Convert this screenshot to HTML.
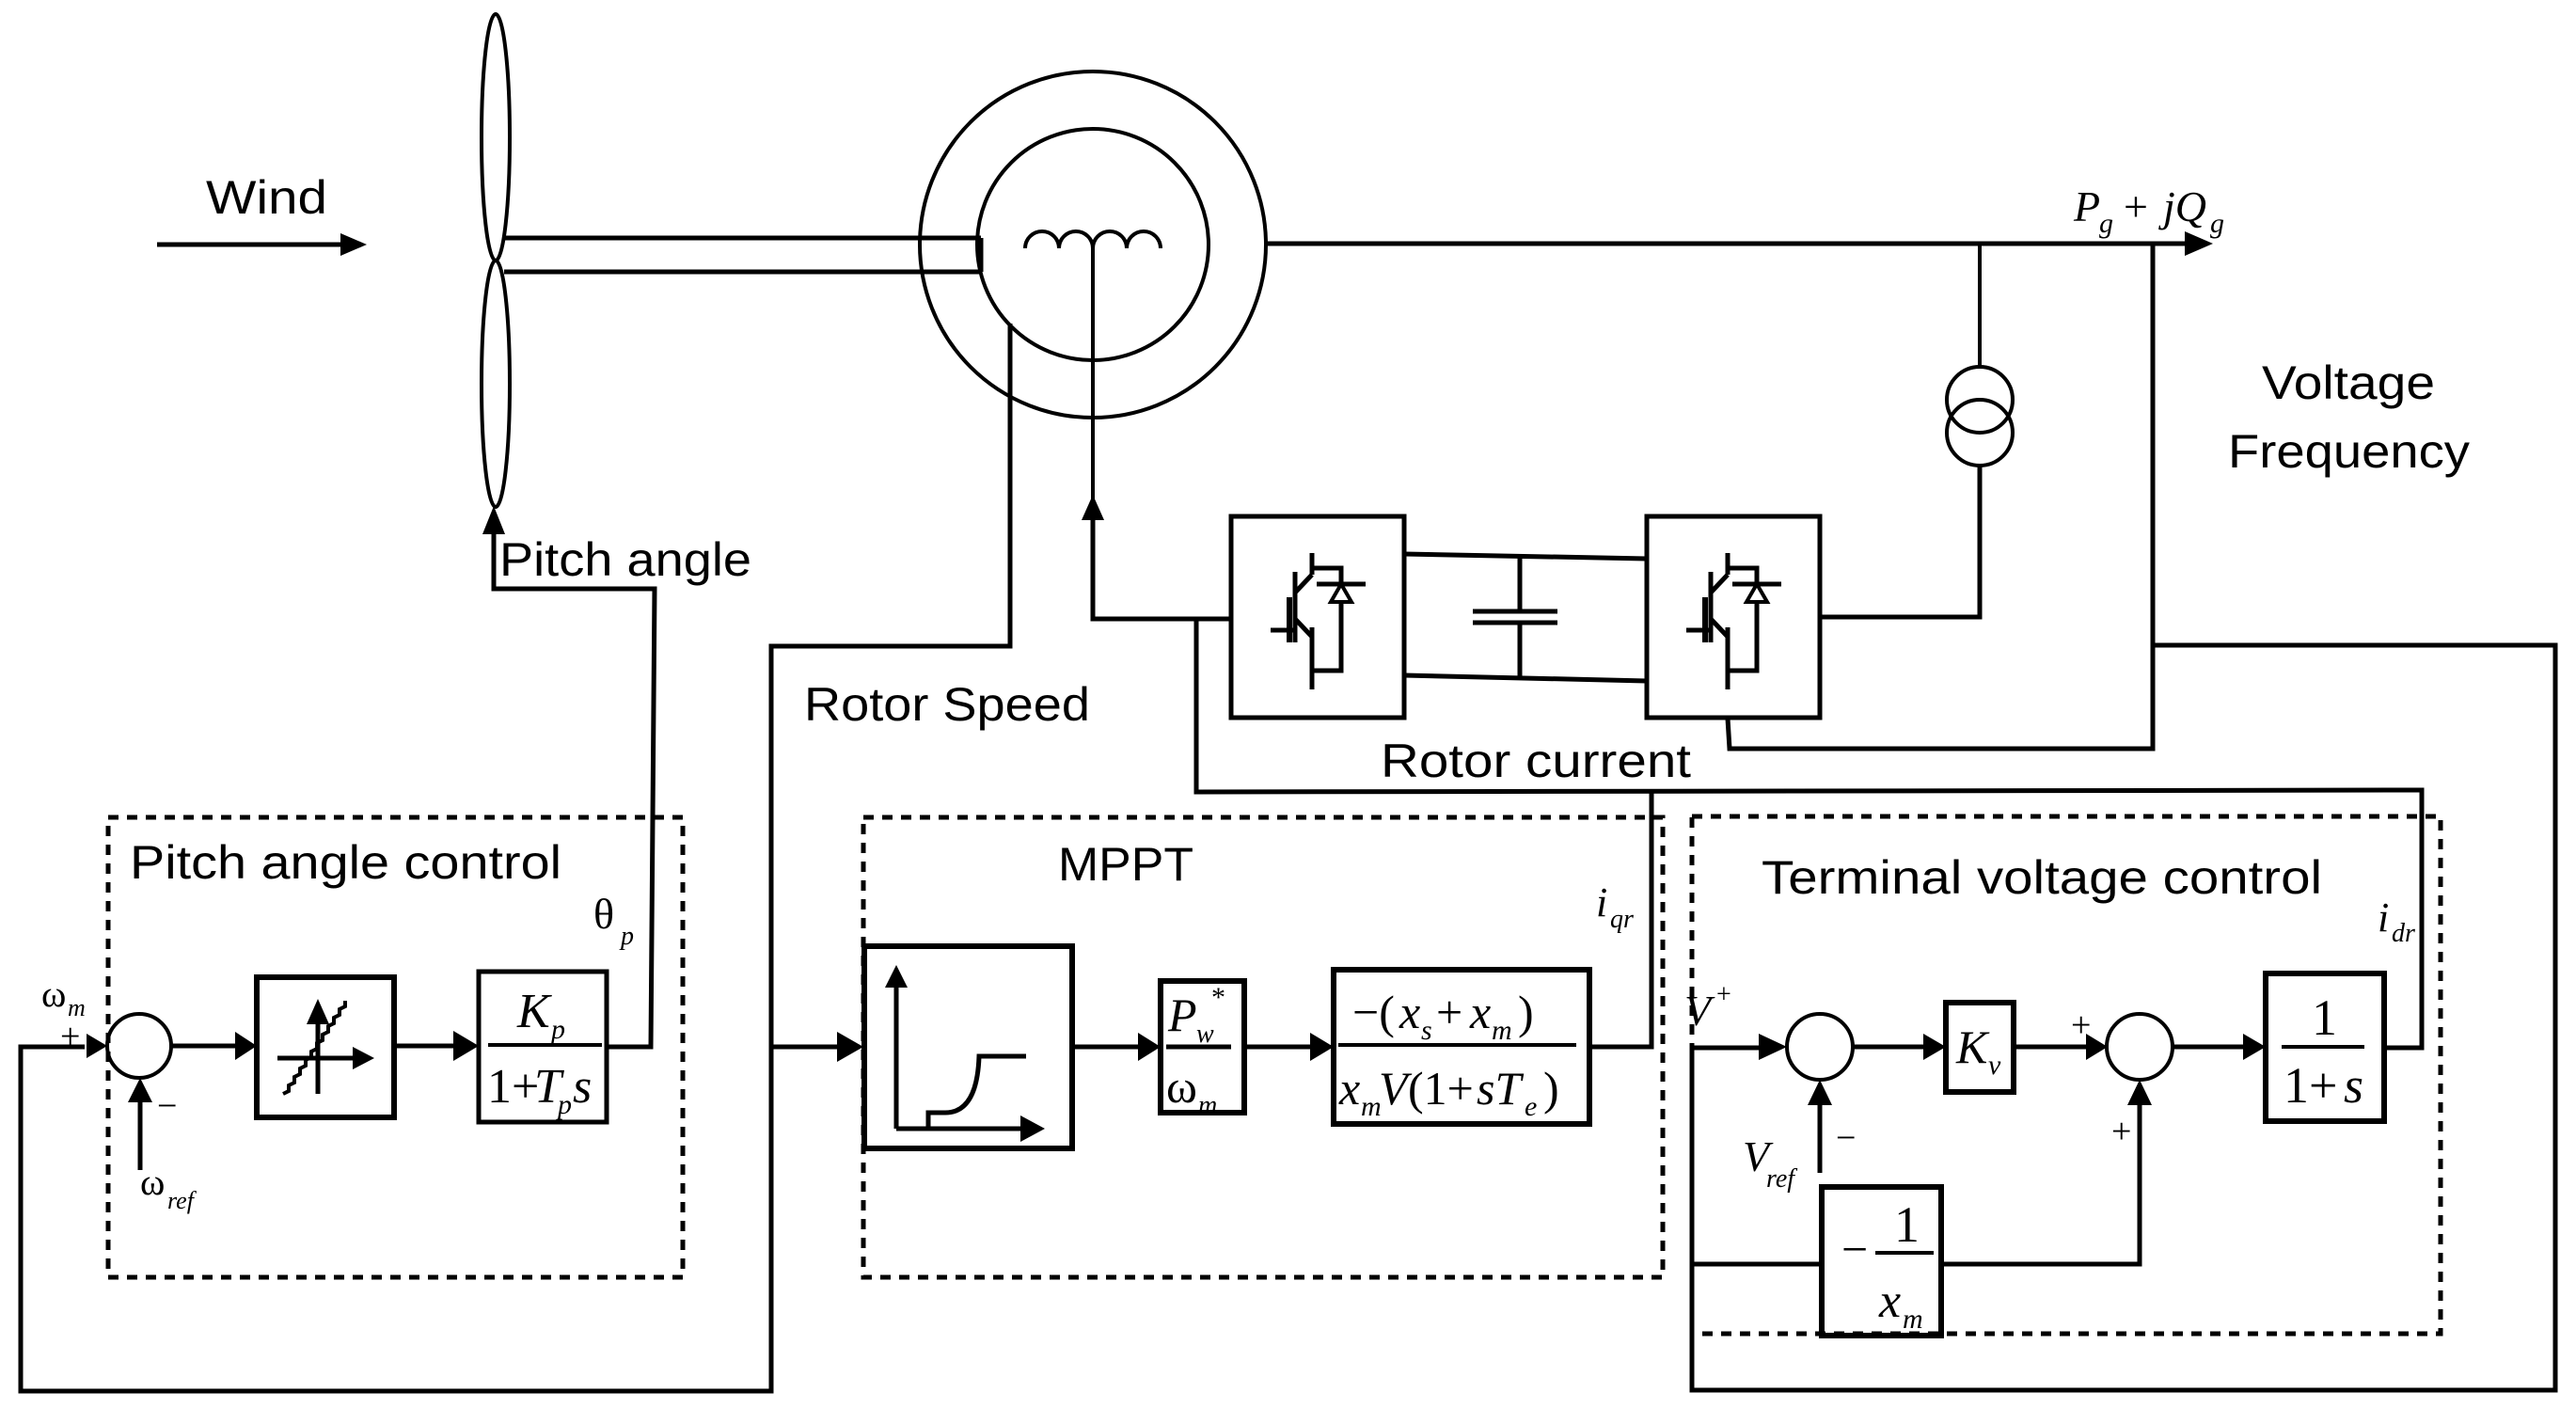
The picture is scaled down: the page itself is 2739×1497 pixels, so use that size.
<!DOCTYPE html>
<html><head><meta charset="utf-8"><style>
html,body{margin:0;padding:0;background:#fff}
svg{display:block}
.s{font-family:"Liberation Sans",sans-serif;fill:#000}
.m{font-family:"Liberation Serif",serif;font-style:italic;fill:#000}
.r{font-family:"Liberation Serif",serif;fill:#000}
</style></head><body>
<svg width="2739" height="1497" viewBox="0 0 2739 1497" xmlns="http://www.w3.org/2000/svg">
<g fill="none" stroke="#000" stroke-width="5" stroke-linejoin="miter">
<line x1="167" y1="260" x2="365" y2="260"/>
<ellipse cx="527" cy="146" rx="15" ry="131" stroke-width="4"/>
<ellipse cx="527" cy="408" rx="15" ry="131" stroke-width="4"/>
<line x1="536" y1="253" x2="1043" y2="253"/>
<line x1="536" y1="289" x2="1043" y2="289"/>
<line x1="1043" y1="253" x2="1043" y2="289"/>
<circle cx="1162" cy="260" r="184" stroke-width="4"/>
<circle cx="1162" cy="260" r="123" stroke-width="4"/>
<path d="M1090 264 a18 18 0 0 1 36 0 a18 18 0 0 1 36 0 a18 18 0 0 1 36 0 a18 18 0 0 1 36 0" stroke-width="4"/>
<polyline points="1162,260 1162,545" stroke-width="4"/>
<polyline points="1162,550 1162,658 1309,658"/>
<polyline points="1074,344 1074,687 820,687 820,1479 22,1479 22,1113 90,1113"/>
<line x1="820" y1="1113" x2="890" y2="1113"/>
<polyline points="525,565 525,626 696,626 692,1113 645,1113"/>
<line x1="1346" y1="259" x2="2325" y2="259"/>
<line x1="2105" y1="259" x2="2105" y2="390" stroke-width="4"/>
<circle cx="2105" cy="425" r="35" stroke-width="4"/>
<circle cx="2105" cy="460" r="35" stroke-width="4"/>
<polyline points="2105,495 2105,656 1935,656"/>
<polyline points="2289,259 2289,796 1839,796 1837,764"/>
<polyline points="2289,686 2717,686 2717,1478 1799,1478 1799,1114 1870,1114"/>
<polyline points="1799,1344 1937,1344"/>
<rect x="1309" y="549" width="184" height="214"/>
<rect x="1751" y="549" width="184" height="214"/>
<line x1="1493" y1="589" x2="1751" y2="594"/>
<line x1="1493" y1="718" x2="1751" y2="724"/>
<line x1="1616" y1="589" x2="1616" y2="650"/>
<line x1="1616" y1="662" x2="1616" y2="721"/>
<line x1="1566" y1="650" x2="1656" y2="650"/>
<line x1="1566" y1="662" x2="1656" y2="662"/>
<polyline points="1272,658 1272,842 2575,840 2575,1114 2535,1114"/>
<polyline points="1756,842 1756,1113 1690,1113"/>
<rect x="115" y="869" width="611" height="489" stroke-dasharray="11 9"/>
<rect x="918" y="869" width="850" height="489" stroke-dasharray="11 9"/>
<rect x="1799" y="868" width="796" height="550" stroke-dasharray="11 9"/>
<circle cx="148" cy="1112" r="34" stroke-width="4"/>
<line x1="149" y1="1244" x2="149" y2="1170"/>
<line x1="182" y1="1112" x2="250" y2="1112"/>
<rect x="273" y="1039" width="146" height="149" stroke-width="6"/>
<line x1="419" y1="1112" x2="482" y2="1112"/>
<rect x="509" y="1033" width="136" height="160" stroke-width="5"/>
<line x1="519" y1="1111" x2="640" y2="1111" stroke-width="4"/>
<line x1="338" y1="1080" x2="338" y2="1163"/>
<line x1="295" y1="1125" x2="380" y2="1125"/>
<path d="M301 1163 l6 -3 l0 -6 l6 -3 l0 -6 l6 -3 l0 -6 l6 -3 l0 -6 l6 -3 l0 -6 l6 -3 l0 -6 l6 -3 l0 -6 l6 -3 l0 -6 l6 -3 l0 -6 l6 -3 l0 -6 l6 -3 l0 -6" stroke-width="4"/>
<rect x="919" y="1006" width="221" height="215" stroke-width="6"/>
<line x1="953" y1="1050" x2="953" y2="1200"/>
<line x1="953" y1="1200" x2="1085" y2="1200"/>
<path d="M987 1200 V1183 H1005 Q1039 1183 1041 1123 H1091"/>
<line x1="1140" y1="1113" x2="1210" y2="1113"/>
<rect x="1234" y="1043" width="89" height="140" stroke-width="6"/>
<line x1="1240" y1="1113" x2="1309" y2="1113"/>
<line x1="1323" y1="1113" x2="1393" y2="1113"/>
<rect x="1418" y="1031" width="272" height="164" stroke-width="6"/>
<line x1="1423" y1="1111" x2="1676" y2="1111" stroke-width="4"/>
<circle cx="1935" cy="1113" r="35" stroke-width="4"/>
<line x1="1935" y1="1247" x2="1935" y2="1170"/>
<line x1="1970" y1="1113" x2="2045" y2="1113"/>
<rect x="2069" y="1066" width="72" height="95" stroke-width="6"/>
<line x1="2141" y1="1113" x2="2218" y2="1113"/>
<circle cx="2275" cy="1113" r="35" stroke-width="4"/>
<polyline points="2064,1344 2275,1344 2275,1170"/>
<line x1="2310" y1="1113" x2="2385" y2="1113"/>
<rect x="2409" y="1035" width="126" height="157" stroke-width="6"/>
<line x1="2426" y1="1113" x2="2514" y2="1113" stroke-width="4"/>
<rect x="1937" y="1262" width="127" height="158" stroke-width="6"/>
<line x1="1994" y1="1332" x2="2056" y2="1332" stroke-width="4"/>
</g>
<g fill="none" stroke="#000" stroke-width="5">
<g id="ig">
<line x1="1395" y1="588" x2="1395" y2="611"/>
<line x1="1395" y1="611" x2="1377" y2="630"/>
<line x1="1377" y1="608" x2="1377" y2="683"/>
<line x1="1371" y1="635" x2="1371" y2="683" stroke-width="6"/>
<line x1="1351" y1="670" x2="1377" y2="670"/>
<line x1="1377" y1="658" x2="1395" y2="677"/>
<line x1="1395" y1="667" x2="1395" y2="733"/>
<polyline points="1395,604 1426,604 1426,713 1395,713"/>
<line x1="1400" y1="621" x2="1452" y2="621"/>
<polygon points="1426,621 1415,640 1437,640" fill="#fff" stroke-width="4"/>
</g>
<use href="#ig" transform="translate(442,0)"/>
</g>
<g fill="#000">
<polygon points="362,248 390,260 362,272"/>
<polygon points="513,568 525,538 537,568"/>
<polygon points="1150,553 1162,526 1174,553"/>
<polygon points="2323,246 2353,259 2323,272"/>
<polygon points="92,1099 114,1112 92,1125"/>
<polygon points="136,1172 149,1146 162,1172"/>
<polygon points="250,1097 273,1112 250,1127"/>
<polygon points="482,1096 509,1112 482,1128"/>
<polygon points="326,1089 338,1062 350,1089"/>
<polygon points="375,1113 398,1125 375,1137"/>
<polygon points="890,1097 918,1113 890,1129"/>
<polygon points="941,1050 953,1026 965,1050"/>
<polygon points="1085,1186 1111,1200 1085,1214"/>
<polygon points="1210,1098 1234,1113 1210,1128"/>
<polygon points="1393,1098 1418,1113 1393,1128"/>
<polygon points="1870,1099 1900,1113 1870,1127"/>
<polygon points="1922,1175 1935,1148 1948,1175"/>
<polygon points="2045,1099 2069,1113 2045,1127"/>
<polygon points="2218,1099 2241,1113 2218,1127"/>
<polygon points="2262,1175 2275,1148 2288,1175"/>
<polygon points="2385,1099 2409,1113 2385,1127"/>
</g>
<text class="s" x="219" y="227" font-size="50" textLength="129" lengthAdjust="spacingAndGlyphs">Wind</text>
<text class="s" x="531" y="612" font-size="50" textLength="268" lengthAdjust="spacingAndGlyphs">Pitch angle</text>
<text class="s" x="855" y="766" font-size="50" textLength="304" lengthAdjust="spacingAndGlyphs">Rotor Speed</text>
<text class="s" x="1468" y="826" font-size="50" textLength="330" lengthAdjust="spacingAndGlyphs">Rotor current</text>
<text class="s" x="2405" y="424" font-size="50" textLength="184" lengthAdjust="spacingAndGlyphs">Voltage</text>
<text class="s" x="2369" y="497" font-size="50" textLength="257" lengthAdjust="spacingAndGlyphs">Frequency</text>
<text class="s" x="138" y="934" font-size="50" textLength="459" lengthAdjust="spacingAndGlyphs">Pitch angle control</text>
<text class="s" x="1125" y="936" font-size="50" textLength="144" lengthAdjust="spacingAndGlyphs">MPPT</text>
<text class="s" x="1873" y="950" font-size="50" textLength="596" lengthAdjust="spacingAndGlyphs">Terminal voltage control</text>
<text class="m" x="2205" y="235" font-size="46">P</text><text class="m" x="2232" y="247" font-size="30">g</text>
<text class="r" x="2258" y="235" font-size="46">+</text><text class="m" x="2300" y="235" font-size="46">jQ</text><text class="m" x="2350" y="247" font-size="30">g</text>
<text class="r" x="631" y="987" font-size="46">θ</text><text class="m" x="660" y="1004" font-size="28">p</text>
<text class="r" x="44" y="1070" font-size="40">ω</text><text class="m" x="72" y="1080" font-size="26">m</text>
<text class="r" x="64" y="1114" font-size="38">+</text>
<text class="r" x="167" y="1188" font-size="38">−</text>
<text class="r" x="149" y="1270" font-size="40">ω</text><text class="m" x="178" y="1285" font-size="26">ref</text>
<text class="m" x="550" y="1092" font-size="52">K</text><text class="m" x="586" y="1104" font-size="30">p</text>
<text class="r" x="518" y="1172" font-size="52">1+</text><text class="m" x="568" y="1172" font-size="52">T</text><text class="m" x="593" y="1184" font-size="30">p</text><text class="m" x="609" y="1172" font-size="52">s</text>
<text class="m" x="1242" y="1096" font-size="50">P</text><text class="m" x="1272" y="1108" font-size="28">w</text><text class="r" x="1288" y="1070" font-size="30">*</text>
<text class="r" x="1240" y="1172" font-size="50">ω</text><text class="m" x="1274" y="1184" font-size="28">m</text>
<text class="r" x="1438" y="1093" font-size="50">−(</text><text class="m" x="1488" y="1093" font-size="50">x</text><text class="m" x="1511" y="1105" font-size="30">s</text><text class="r" x="1527" y="1093" font-size="50">+</text><text class="m" x="1563" y="1093" font-size="50">x</text><text class="m" x="1586" y="1105" font-size="30">m</text><text class="r" x="1614" y="1093" font-size="50">)</text>
<text class="m" x="1424" y="1174" font-size="50">x</text><text class="m" x="1447" y="1186" font-size="30">m</text><text class="m" x="1466" y="1174" font-size="50">V</text><text class="r" x="1497" y="1174" font-size="50">(1+</text><text class="m" x="1570" y="1174" font-size="50">sT</text><text class="m" x="1621" y="1186" font-size="30">e</text><text class="r" x="1641" y="1174" font-size="50">)</text>
<text class="m" x="1697" y="974" font-size="44">i</text><text class="m" x="1712" y="986" font-size="28">qr</text>
<text class="m" x="2528" y="990" font-size="44">i</text><text class="m" x="2543" y="1001" font-size="28">dr</text>
<text class="m" x="1791" y="1090" font-size="46">V</text><text class="r" x="1825" y="1066" font-size="28">+</text>
<text class="m" x="2080" y="1130" font-size="50">K</text><text class="m" x="2114" y="1142" font-size="30">v</text>
<text class="r" x="2202" y="1102" font-size="38">+</text>
<text class="r" x="1952" y="1222" font-size="38">−</text>
<text class="r" x="2245" y="1215" font-size="38">+</text>
<text class="m" x="1853" y="1245" font-size="46">V</text><text class="m" x="1878" y="1262" font-size="28">ref</text>
<text class="r" x="2458" y="1100" font-size="54">1</text>
<text class="r" x="2428" y="1172" font-size="54">1+</text><text class="m" x="2492" y="1172" font-size="54">s</text>
<text class="r" x="1958" y="1345" font-size="50">−</text>
<text class="r" x="2014" y="1320" font-size="54">1</text>
<text class="m" x="1998" y="1400" font-size="52">x</text><text class="m" x="2023" y="1412" font-size="30">m</text>
</svg>
</body></html>
